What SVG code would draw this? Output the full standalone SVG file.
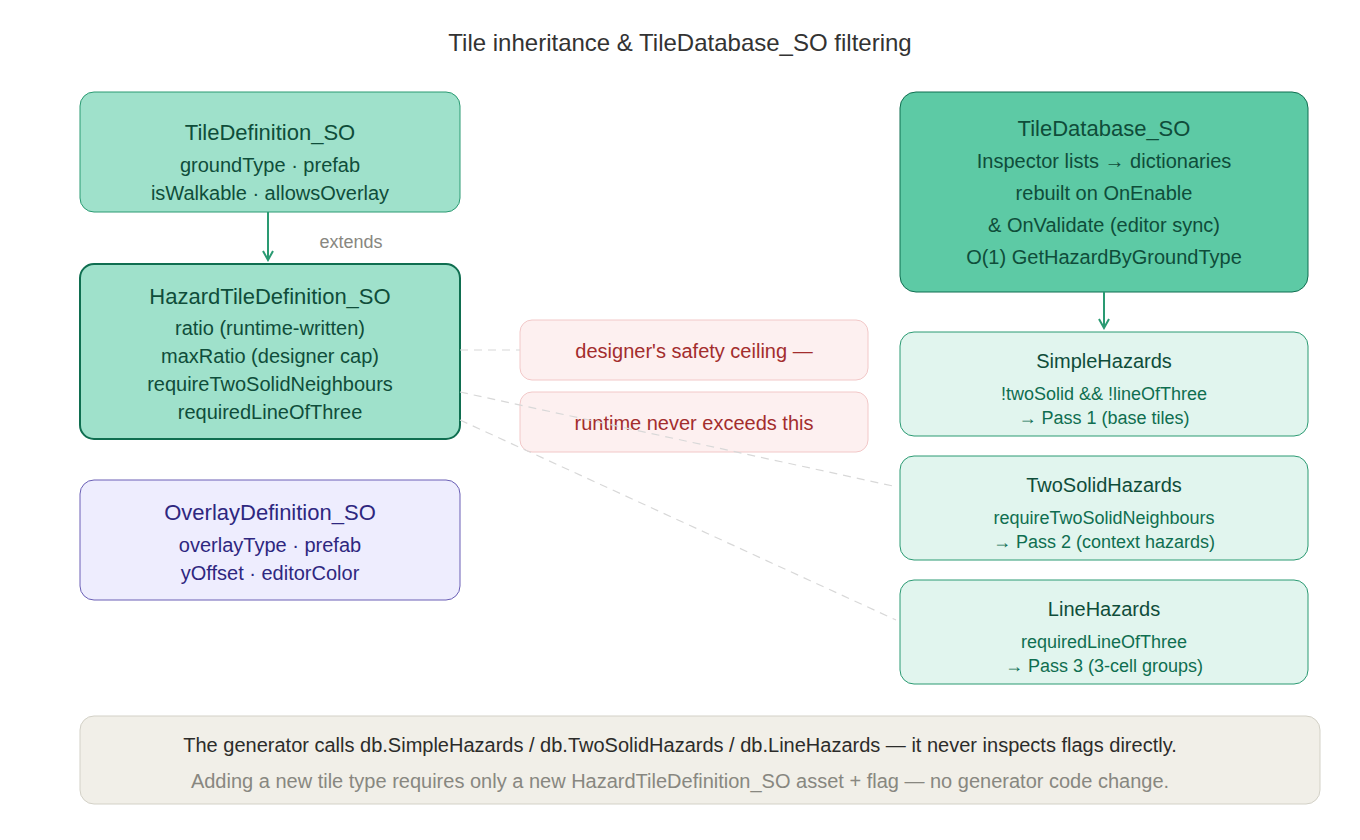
<svg xmlns="http://www.w3.org/2000/svg" width="1360" height="840" viewBox="0 0 1360 840">
<style>
text{font-family:"Liberation Sans",Arial,sans-serif;text-anchor:middle}
.t{font-size:22px}
.s{font-size:20px}
.x{font-size:18px}
.g{fill:#0f4d3a}
.dash{stroke:#d8d8d8;stroke-width:1.2;stroke-dasharray:8 6;fill:none}
</style>
<defs><marker id="ar" viewBox="0 0 12 12" refX="10" refY="6" markerWidth="12" markerHeight="12" markerUnits="userSpaceOnUse" orient="auto"><path d="M1 1 L10 6 L1 11" fill="none" stroke="#2a9a72" stroke-width="2"/></marker></defs>
<rect width="1360" height="840" fill="#fff"/>
<text x="680" y="51" style="font-size:24px" fill="#333">Tile inheritance &amp; TileDatabase_SO filtering</text>
<g id="tiledef"><rect x="80" y="92" width="380" height="120" rx="14" fill="#9fe1cb" stroke="#2a9a72" stroke-width="1"/>
<text class="t g" x="270" y="140">TileDefinition_SO</text><text class="s g" x="270" y="172">groundType · prefab</text><text class="s g" x="270" y="200">isWalkable · allowsOverlay</text></g>
<g id="hazard"><rect x="80" y="264" width="380" height="175" rx="14" fill="#9fe1cb" stroke="#0f6e50" stroke-width="2"/>
<text class="t g" x="270" y="304">HazardTileDefinition_SO</text><text class="s g" x="270" y="335">ratio (runtime-written)</text><text class="s g" x="270" y="363">maxRatio (designer cap)</text><text class="s g" x="270" y="391">requireTwoSolidNeighbours</text><text class="s g" x="270" y="419">requiredLineOfThree</text></g>
<g id="overlay"><rect x="80" y="480" width="380" height="120" rx="14" fill="#eeedfe" stroke="#6a5fb5" stroke-width="1"/>
<text class="t" fill="#2e2780" x="270" y="520">OverlayDefinition_SO</text><text class="s" fill="#2e2780" x="270" y="552">overlayType · prefab</text><text class="s" fill="#2e2780" x="270" y="580">yOffset · editorColor</text></g>
<g id="note1"><rect x="520" y="320" width="348" height="60" rx="12" fill="#fdf0f0" stroke="#f2c8c8"/><text class="s" fill="#a32d2d" x="694" y="358">designer's safety ceiling —</text></g>
<g id="note2"><rect x="520" y="392" width="348" height="60" rx="12" fill="#fdf0f0" stroke="#f2c8c8"/><text class="s" fill="#a32d2d" x="694" y="430">runtime never exceeds this</text></g>
<g id="db"><rect x="900" y="92" width="408" height="200" rx="16" fill="#5dcaa5" stroke="#0f6e50" stroke-width="1"/>
<text class="t g" x="1104" y="136">TileDatabase_SO</text><text class="s g" x="1104" y="168">Inspector lists → dictionaries</text><text class="s g" x="1104" y="200">rebuilt on OnEnable</text><text class="s g" x="1104" y="232">&amp; OnValidate (editor sync)</text><text class="s g" x="1104" y="264">O(1) GetHazardByGroundType</text></g>
<g id="simple"><rect x="900" y="332" width="408" height="104" rx="14" fill="#e1f5ee" stroke="#2a9a72"/>
<text class="s g" x="1104" y="368">SimpleHazards</text><text class="x" fill="#0f6e50" x="1104" y="400">!twoSolid &amp;&amp; !lineOfThree</text><text class="x" fill="#0f6e50" x="1104" y="424">→ Pass 1 (base tiles)</text></g>
<g id="twosolid"><rect x="900" y="456" width="408" height="104" rx="14" fill="#e1f5ee" stroke="#2a9a72"/>
<text class="s g" x="1104" y="492">TwoSolidHazards</text><text class="x" fill="#0f6e50" x="1104" y="524">requireTwoSolidNeighbours</text><text class="x" fill="#0f6e50" x="1104" y="548">→ Pass 2 (context hazards)</text></g>
<g id="line"><rect x="900" y="580" width="408" height="104" rx="14" fill="#e1f5ee" stroke="#2a9a72"/>
<text class="s g" x="1104" y="616">LineHazards</text><text class="x" fill="#0f6e50" x="1104" y="648">requiredLineOfThree</text><text class="x" fill="#0f6e50" x="1104" y="672">→ Pass 3 (3-cell groups)</text></g>
<g id="footer"><rect x="80" y="716" width="1240" height="88" rx="14" fill="#f1efe8" stroke="#d3d1c7"/>
<text class="s" fill="#2c2c2a" x="680" y="752">The generator calls db.SimpleHazards / db.TwoSolidHazards / db.LineHazards — it never inspects flags directly.</text>
<text class="s" fill="#888780" x="680" y="788">Adding a new tile type requires only a new HazardTileDefinition_SO asset + flag — no generator code change.</text></g>
<g id="connectors">
<line x1="268" y1="212" x2="268" y2="260" stroke="#2a9a72" stroke-width="2" marker-end="url(#ar)"/>
<text class="x" fill="#888780" x="351" y="248">extends</text>
<line x1="1104" y1="292" x2="1104" y2="328" stroke="#2a9a72" stroke-width="2" marker-end="url(#ar)"/>
<line class="dash" x1="460" y1="350" x2="520" y2="350"/>
<line class="dash" x1="460" y1="392" x2="893" y2="486"/>
<line class="dash" x1="460" y1="420" x2="896" y2="620"/>
</g>
</svg>
